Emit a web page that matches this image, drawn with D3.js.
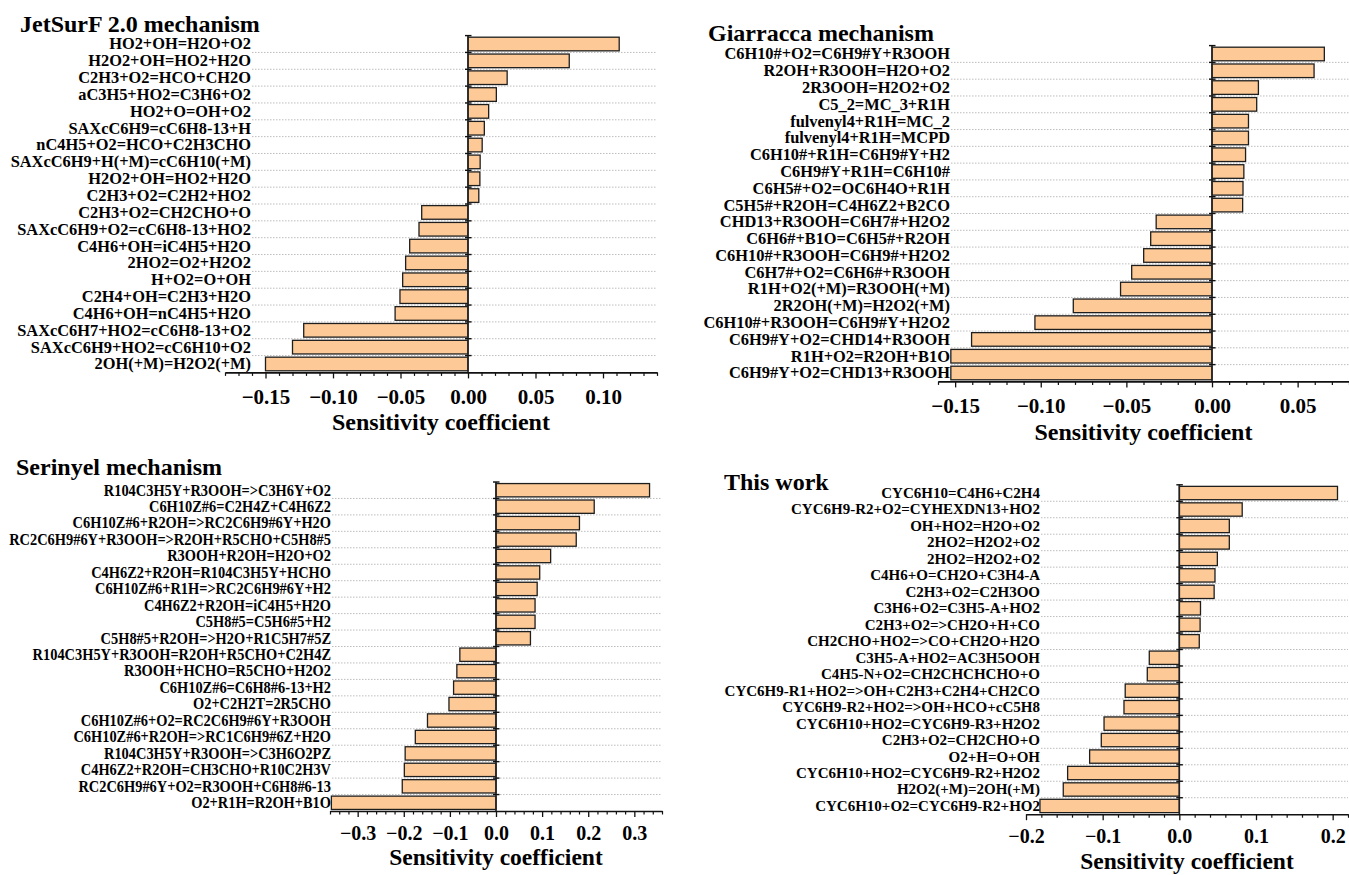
<!DOCTYPE html>
<html>
<head>
<meta charset="utf-8">
<script src="https://cdn.jsdelivr.net/npm/d3@7"></script>
<style>
  body { margin: 0; background: #fff; }
  svg { display: block; }
  text { font-family: 'Liberation Serif', 'Times New Roman', serif; font-weight: bold; fill: #000; }
</style>
</head>
<body>
<svg id="chart" width="1349" height="875"></svg>
<script>
// ---- Sensitivity coefficients, one set per mechanism (top row of each chart first) ----
const jetsurfReactions = [
  "HO2+OH=H2O+O2", "H2O2+OH=HO2+H2O", "C2H3+O2=HCO+CH2O", "aC3H5+HO2=C3H6+O2",
  "HO2+O=OH+O2", "SAXcC6H9=cC6H8-13+H", "nC4H5+O2=HCO+C2H3CHO", "SAXcC6H9+H(+M)=cC6H10(+M)",
  "H2O2+OH=HO2+H2O", "C2H3+O2=C2H2+HO2", "C2H3+O2=CH2CHO+O", "SAXcC6H9+O2=cC6H8-13+HO2",
  "C4H6+OH=iC4H5+H2O", "2HO2=O2+H2O2", "H+O2=O+OH", "C2H4+OH=C2H3+H2O",
  "C4H6+OH=nC4H5+H2O", "SAXcC6H7+HO2=cC6H8-13+O2", "SAXcC6H9+HO2=cC6H10+O2", "2OH(+M)=H2O2(+M)"
];
const jetsurfSens = [
  0.112, 0.075, 0.029, 0.021, 0.0153, 0.0121, 0.0105, 0.009, 0.0088, 0.008,
  -0.0343, -0.0363, -0.0432, -0.0462, -0.0484, -0.0504, -0.054, -0.1217, -0.130, -0.150
];
const jetsurfTicks = [-0.15, -0.10, -0.05, 0.00, 0.05, 0.10];

const giarraccaReactions = [
  "C6H10#+O2=C6H9#Y+R3OOH", "R2OH+R3OOH=H2O+O2", "2R3OOH=H2O2+O2", "C5_2=MC_3+R1H",
  "fulvenyl4+R1H=MC_2", "fulvenyl4+R1H=MCPD", "C6H10#+R1H=C6H9#Y+H2", "C6H9#Y+R1H=C6H10#",
  "C6H5#+O2=OC6H4O+R1H", "C5H5#+R2OH=C4H6Z2+B2CO", "CHD13+R3OOH=C6H7#+H2O2", "C6H6#+B1O=C6H5#+R2OH",
  "C6H10#+R3OOH=C6H9#+H2O2", "C6H7#+O2=C6H6#+R3OOH", "R1H+O2(+M)=R3OOH(+M)", "2R2OH(+M)=H2O2(+M)",
  "C6H10#+R3OOH=C6H9#Y+H2O2", "C6H9#Y+O2=CHD14+R3OOH", "R1H+O2=R2OH+B1O", "C6H9#Y+O2=CHD13+R3OOH"
];
const giarraccaSens = [
  0.0656, 0.0596, 0.0271, 0.0261, 0.0213, 0.0213, 0.0196, 0.0186, 0.0181, 0.0179,
  -0.0326, -0.0358, -0.0399, -0.0469, -0.0534, -0.081, -0.1034, -0.1404, -0.1525, -0.1525
];
const giarraccaTicks = [-0.15, -0.10, -0.05, 0.00, 0.05];

const serinyelReactions = [
  "R104C3H5Y+R3OOH=>C3H6Y+O2", "C6H10Z#6=C2H4Z+C4H6Z2", "C6H10Z#6+R2OH=>RC2C6H9#6Y+H2O",
  "RC2C6H9#6Y+R3OOH=>R2OH+R5CHO+C5H8#5", "R3OOH+R2OH=H2O+O2", "C4H6Z2+R2OH=R104C3H5Y+HCHO",
  "C6H10Z#6+R1H=>RC2C6H9#6Y+H2", "C4H6Z2+R2OH=iC4H5+H2O", "C5H8#5=C5H6#5+H2",
  "C5H8#5+R2OH=>H2O+R1C5H7#5Z", "R104C3H5Y+R3OOH=R2OH+R5CHO+C2H4Z", "R3OOH+HCHO=R5CHO+H2O2",
  "C6H10Z#6=C6H8#6-13+H2", "O2+C2H2T=2R5CHO", "C6H10Z#6+O2=RC2C6H9#6Y+R3OOH",
  "C6H10Z#6+R2OH=>RC1C6H9#6Z+H2O", "R104C3H5Y+R3OOH=>C3H6O2PZ", "C4H6Z2+R2OH=CH3CHO+R10C2H3V",
  "RC2C6H9#6Y+O2=R3OOH+C6H8#6-13", "O2+R1H=R2OH+B1O"
];
const serinyelSens = [
  0.333, 0.213, 0.181, 0.174, 0.1185, 0.0948, 0.0893, 0.0847, 0.0847, 0.0747,
  -0.0784, -0.0849, -0.092, -0.102, -0.1486, -0.175, -0.197, -0.1988, -0.2033, -0.357
];
const serinyelTicks = [-0.3, -0.2, -0.1, 0.0, 0.1, 0.2, 0.3];

const thisWorkReactions = [
  "CYC6H10=C4H6+C2H4", "CYC6H9-R2+O2=CYHEXDN13+HO2", "OH+HO2=H2O+O2", "2HO2=H2O2+O2",
  "2HO2=H2O2+O2", "C4H6+O=CH2O+C3H4-A", "C2H3+O2=C2H3OO", "C3H6+O2=C3H5-A+HO2",
  "C2H3+O2=>CH2O+H+CO", "CH2CHO+HO2=>CO+CH2O+H2O", "C3H5-A+HO2=AC3H5OOH", "C4H5-N+O2=CH2CHCHCHO+O",
  "CYC6H9-R1+HO2=>OH+C2H3+C2H4+CH2CO", "CYC6H9-R2+HO2=>OH+HCO+cC5H8", "CYC6H10+HO2=CYC6H9-R3+H2O2",
  "C2H3+O2=CH2CHO+O", "O2+H=O+OH", "CYC6H10+HO2=CYC6H9-R2+H2O2", "H2O2(+M)=2OH(+M)",
  "CYC6H10+O2=CYC6H9-R2+HO2"
];
const thisWorkSens = [
  0.2063, 0.082, 0.0652, 0.0652, 0.0496, 0.0465, 0.0454, 0.0276, 0.0271, 0.026,
  -0.0392, -0.0418, -0.0706, -0.0722, -0.0982, -0.1018, -0.117, -0.1457, -0.1514, -0.1818
];
const thisWorkTicks = [-0.2, -0.1, 0.0, 0.1, 0.2];

// ---- Panel layout ----
const panels = [
  { title: "JetSurF 2.0 mechanism", reactions: jetsurfReactions, values: jetsurfSens, ticks: jetsurfTicks,
    domain: [-0.18, 0.14], minorStep: 0.01, fmt: ".2f",
    x0: 225, x1: 657, top: 35.6, bottom: 372.4, labelRight: 251, labelSize: 16.4, labelScale: 1,
    tickFont: 21, tickBaseline: 31.2, axisTitleBaseline: 58, axisTitleSize: 24, titleX: 20, titleY: 32 },
  { title: "Giarracca mechanism", reactions: giarraccaReactions, values: giarraccaSens, ticks: giarraccaTicks,
    domain: [-0.16, 0.08], minorStep: 0.01, fmt: ".2f",
    x0: 938, x1: 1349, top: 45.6, bottom: 381.4, labelRight: 950, labelSize: 16.4, labelScale: 1,
    tickFont: 21, tickBaseline: 31.6, axisTitleBaseline: 59, axisTitleSize: 24, titleX: 708, titleY: 41 },
  { title: "Serinyel mechanism", reactions: serinyelReactions, values: serinyelSens, ticks: serinyelTicks,
    domain: [-0.36, 0.36], minorStep: 0.02, fmt: ".1f",
    x0: 330, x1: 662, top: 482, bottom: 811, labelRight: 331, labelSize: 16, labelScale: 0.9,
    tickFont: 20, tickBaseline: 29, axisTitleBaseline: 54, axisTitleSize: 23.5, titleX: 16, titleY: 475 },
  { title: "This work", reactions: thisWorkReactions, values: thisWorkSens, ticks: thisWorkTicks,
    domain: [-0.2, 0.22], minorStep: 0.02, fmt: ".1f",
    x0: 1026, x1: 1348, top: 484.8, bottom: 814.2, labelRight: 1040, labelSize: 15, labelScale: 1,
    tickFont: 20, tickBaseline: 29, axisTitleBaseline: 55, axisTitleSize: 23.5, titleX: 724, titleY: 490 }
];

const svg = d3.select("#chart");
svg.append("rect").attr("width", 1349).attr("height", 875).attr("fill", "#fff");

panels.forEach(p => {
  const g = svg.append("g");
  const n = p.reactions.length;

  const x = d3.scaleLinear().domain(p.domain).range([p.x0, p.x1]);
  const y = d3.scaleBand().domain(d3.range(n)).range([p.top, p.bottom])
    .paddingInner(0.19).paddingOuter(0.095);
  const step = (p.bottom - p.top) / n;
  const zeroX = x(0);

  // dotted row separators
  g.append("g").selectAll("line").data(d3.range(1, n)).join("line")
    .attr("x1", p.labelRight + 1).attr("x2", p.x1)
    .attr("y1", i => p.top + i * step).attr("y2", i => p.top + i * step)
    .attr("stroke", "#bdbdbd").attr("stroke-width", 1).attr("stroke-dasharray", "1.5,1.5");

  // bars
  g.append("g").selectAll("rect").data(p.values).join("rect")
    .attr("x", v => Math.min(x(v), zeroX))
    .attr("y", (v, i) => y(i))
    .attr("width", v => Math.abs(x(v) - zeroX))
    .attr("height", y.bandwidth())
    .attr("fill", "#fdca97")
    .attr("stroke", "#1e1e1e").attr("stroke-width", 1.3);

  // reaction labels
  g.append("g").selectAll("text").data(p.reactions).join("text")
    .attr("transform", (d, i) => `translate(${p.labelRight},${y(i) + y.bandwidth() / 2 + p.labelSize * 0.33}) scale(${p.labelScale},1)`)
    .attr("text-anchor", "end")
    .style("font-size", p.labelSize + "px")
    .text(d => d);

  // zero line with row ticks
  g.append("line")
    .attr("x1", zeroX).attr("x2", zeroX).attr("y1", p.top).attr("y2", p.bottom)
    .attr("stroke", "#222").attr("stroke-width", 1.6);
  g.append("g").selectAll("line").data(d3.range(0, n)).join("line")
    .attr("x1", zeroX - 3).attr("x2", zeroX + 3.5)
    .attr("y1", i => p.top + i * step).attr("y2", i => p.top + i * step)
    .attr("stroke", "#111").attr("stroke-width", 1.4);

  // bottom axis: minor ticks
  const k0 = Math.ceil(p.domain[0] / p.minorStep - 1e-6), k1 = Math.floor(p.domain[1] / p.minorStep + 1e-6);
  const minor = d3.range(k0, k1 + 1).map(k => +(k * p.minorStep).toFixed(4))
    .filter(v => !p.ticks.some(t => Math.abs(t - v) < 1e-6));
  g.append("g").attr("transform", `translate(0,${p.bottom})`)
    .call(d3.axisBottom(x).tickValues(minor).tickSize(3.5).tickSizeOuter(0).tickFormat(""))
    .call(a => a.select(".domain").remove())
    .call(a => a.selectAll("line").attr("stroke", "#111").attr("stroke-width", 1.2));

  // bottom axis: major ticks and labels
  const tickPad = p.tickBaseline - 6 - 0.71 * p.tickFont;
  g.append("g").attr("transform", `translate(0,${p.bottom})`)
    .call(d3.axisBottom(x).tickValues(p.ticks).tickSize(6).tickSizeOuter(0).tickPadding(tickPad)
      .tickFormat(d3.format(p.fmt)))
    .call(a => a.select(".domain").attr("stroke", "#111").attr("stroke-width", 1.6))
    .call(a => a.selectAll(".tick line").attr("stroke", "#111").attr("stroke-width", 1.3))
    .call(a => a.selectAll("text")
      .style("font-family", "'Liberation Serif','Times New Roman',serif")
      .style("font-weight", "bold").style("font-size", p.tickFont + "px").attr("fill", "#000"));

  // axis title
  g.append("text")
    .attr("x", (p.x0 + p.x1) / 2).attr("y", p.bottom + p.axisTitleBaseline)
    .attr("text-anchor", "middle").style("font-size", p.axisTitleSize + "px")
    .text("Sensitivity coefficient");

  // panel title
  g.append("text")
    .attr("x", p.titleX).attr("y", p.titleY)
    .style("font-size", "24px")
    .text(p.title);
});
</script>
</body>
</html>
